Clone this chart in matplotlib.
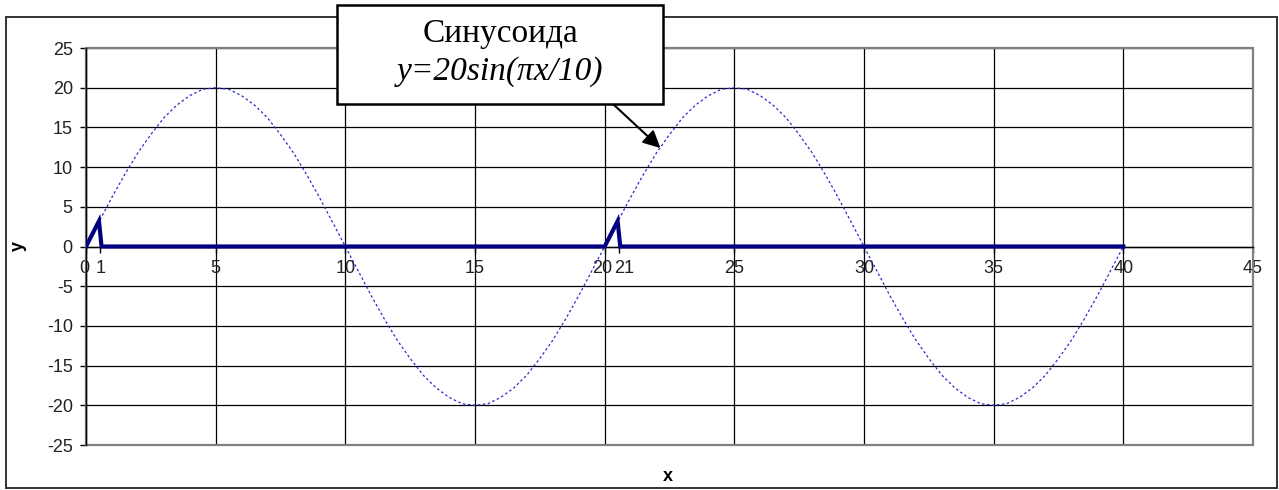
import numpy as np
import matplotlib
matplotlib.use("Agg")
import matplotlib.pyplot as plt
import matplotlib.transforms as mtrans
from matplotlib.patches import Rectangle

x_sine = np.arange(0, 40.5, 0.5)
y_sine = [
    0, 3.1, 6.2, 9.1, 11.8, 14.1, 16.2, 17.8, 19.0, 19.8,
    20.0, 19.8, 19.0, 17.8, 16.2, 14.1, 11.8, 9.1, 6.2, 3.1,
    0, -3.1, -6.2, -9.1, -11.8, -14.1, -16.2, -17.8, -19.0, -19.8,
    -20.0, -19.8, -19.0, -17.8, -16.2, -14.1, -11.8, -9.1, -6.2, -3.1,
    0, 3.1, 6.2, 9.1, 11.8, 14.1, 16.2, 17.8, 19.0, 19.8,
    20.0, 19.8, 19.0, 17.8, 16.2, 14.1, 11.8, 9.1, 6.2, 3.1,
    0, -3.1, -6.2, -9.1, -11.8, -14.1, -16.2, -17.8, -19.0, -19.8,
    -20.0, -19.8, -19.0, -17.8, -16.2, -14.1, -11.8, -9.1, -6.2, -3.1,
    0,
]

# thick pulse line
x_pulse = [0, 0.5, 0.6, 20, 20.5, 20.6, 40]
y_pulse = [0, 3.2, 0, 0, 3.2, 0, 0]

major_x = [0, 5, 10, 15, 20, 25, 30, 35, 40, 45]
extra_x = [0.55, 20.55]
extra_labels = ["1", "21"]
major_y = [-25, -20, -15, -10, -5, 0, 5, 10, 15, 20, 25]

title_txt = "Синусоида"
formula_txt = "y=20sin(\u03c0x/10)"
arrow_pt = (22.15, 12.4)

W, H = 1279, 490
fig = plt.figure(figsize=(W / 100, H / 100), dpi=100)
ax = fig.add_axes([86 / W, 1 - 445 / H, (1253 - 86) / W, (445 - 48) / H])

ax.plot(x_sine, y_sine, color="#2a2ad0", lw=0.9, ls=(0, (2, 2)), zorder=3)
ax.plot(x_pulse, y_pulse, color="#000080", lw=3.0, zorder=4,
        solid_joinstyle="miter")

ax.set_xlim(0, 45)
ax.set_ylim(-25, 25)
ax.set_xticks(major_x)
ax.set_xticklabels([str(v) for v in major_x])
ax.set_xticks(extra_x, minor=True)
ax.set_xticklabels(extra_labels, minor=True)
ax.set_yticks(major_y)
ax.set_yticklabels([str(v) for v in major_y])

ax.grid(True, which="major", color="black", lw=0.9, zorder=1)
ax.set_axisbelow(True)

for s in ["top", "right"]:
    ax.spines[s].set_visible(False)
ax.spines["bottom"].set_position(("data", 0))
ax.spines["bottom"].set_color("black")
ax.spines["bottom"].set_linewidth(1.0)
ax.spines["left"].set_color("black")
ax.spines["left"].set_linewidth(1.0)

# grey plot-area frame
ax.add_patch(Rectangle((0, 0), 1, 1, transform=ax.transAxes, fill=False,
                       edgecolor="#808080", lw=1.6, zorder=2.5, clip_on=False))

ax.tick_params(axis="y", which="major", direction="out", length=4.5,
               width=1, color="black", pad=5, labelsize=13)
ax.tick_params(axis="x", which="both", direction="out", length=4,
               width=1, color="black", pad=6, labelsize=13)
for lab in ax.get_xticklabels() + ax.get_yticklabels() + ax.get_xticklabels(minor=True):
    lab.set_family("Liberation Sans")
    lab.set_color("#222222")

# nudge the crowded labels apart a little, like the original
minor_labs = ax.get_xticklabels(minor=True)
minor_labs[1].set_transform(minor_labs[1].get_transform() +
                            mtrans.ScaledTranslation(5 / 100, 0, fig.dpi_scale_trans))
major_labs = ax.get_xticklabels()
for i in (0, 4):
    major_labs[i].set_transform(major_labs[i].get_transform() +
                                mtrans.ScaledTranslation(-2 / 100, 0, fig.dpi_scale_trans))

fig.text(18 / W, 1 - 246 / H, "y", rotation=90, ha="center", va="center",
         family="Liberation Sans", size=13, weight="bold")
fig.text(668 / W, 1 - 476 / H, "x", ha="center", va="center",
         family="Liberation Sans", size=13, weight="bold")

# outer chart border
fig.add_artist(Rectangle((6 / W, 1 - 488 / H), (1277 - 6) / W, (488 - 17) / H,
                         transform=fig.transFigure, fill=False,
                         edgecolor="#333333", lw=1.4))

# callout box
fig.add_artist(Rectangle((337 / W, 1 - 104 / H), (663 - 337) / W, (104 - 5) / H,
                         transform=fig.transFigure, facecolor="white",
                         edgecolor="black", lw=1.8, zorder=10))
fig.text(500 / W, 1 - 34 / H, title_txt, ha="center", va="center",
         family="Liberation Serif", size=24, zorder=11)
fig.text(500 / W, 1 - 72 / H, formula_txt, ha="center", va="center",
         family="Liberation Serif", style="italic", size=24, zorder=11)
ax.annotate("", xy=arrow_pt, xycoords="data",
            xytext=(613 / W, 1 - 104 / H), textcoords="figure fraction",
            arrowprops=dict(arrowstyle="-|>", color="black", lw=1.5,
                            mutation_scale=26, shrinkA=0, shrinkB=0),
            annotation_clip=False, zorder=9)

fig.savefig("out.png", dpi=100, facecolor="white")
